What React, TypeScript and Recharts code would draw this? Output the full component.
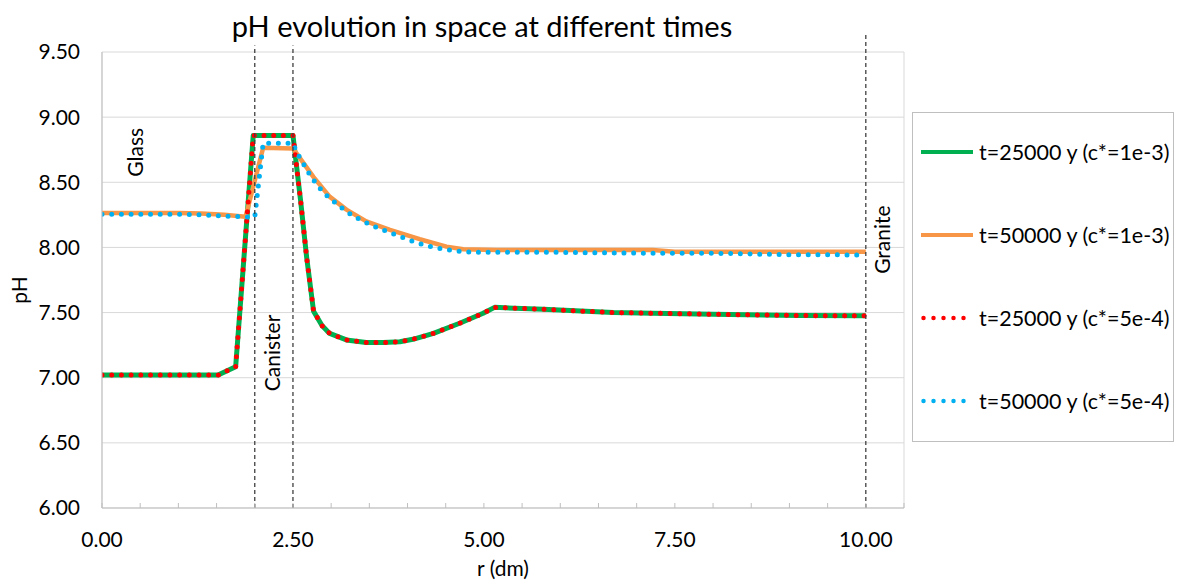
import React from 'react';
import {
  LineChart,
  Line,
  XAxis,
  YAxis,
  CartesianGrid,
  ReferenceLine,
  ReferenceDot,
  Legend,
  Customized,
} from 'recharts';

const FONT = 'Lato, "Open Sans", sans-serif';

// ---- data ----
// t=25000 y (c*=1e-3)  and  t=25000 y (c*=5e-4)
const rG = [0, 0.5, 1.0, 1.52, 1.75, 1.98, 2.5, 2.6, 2.68, 2.77, 2.88, 2.98, 3.2, 3.46, 3.68, 3.9, 4.07, 4.34, 4.69, 4.99, 5.14, 5.78, 6.69, 7.21, 8.0, 9.14, 10.0];
const pHGreen = [7.02, 7.02, 7.02, 7.02, 7.085, 8.86, 8.86, 8.36, 7.92, 7.51, 7.4, 7.34, 7.29, 7.27, 7.27, 7.276, 7.295, 7.34, 7.42, 7.495, 7.54, 7.525, 7.5, 7.495, 7.487, 7.477, 7.475];
const pHRed = [7.02, 7.02, 7.02, 7.02, 7.085, 8.86, 8.86, 8.36, 7.92, 7.51, 7.4, 7.34, 7.29, 7.27, 7.27, 7.276, 7.295, 7.34, 7.42, 7.495, 7.54, 7.525, 7.5, 7.495, 7.487, 7.477, 7.475];

// t=50000 y (c*=1e-3)
const rO = [0, 0.5, 1.0, 1.3, 1.6, 1.88, 2.11, 2.5, 2.53, 2.77, 2.98, 3.2, 3.46, 3.77, 4.16, 4.51, 4.73, 5.17, 6.0, 7.21, 7.5, 8.5, 10.0];
const pHOrange = [8.265, 8.265, 8.265, 8.26, 8.25, 8.236, 8.765, 8.76, 8.735, 8.54, 8.39, 8.29, 8.2, 8.134, 8.063, 8.006, 7.986, 7.98, 7.98, 7.98, 7.967, 7.967, 7.967];

// t=50000 y (c*=5e-4)
const rB = [0, 0.5, 1.0, 1.3, 1.6, 2.0, 2.11, 2.5, 2.55, 2.74, 2.9, 3.09, 3.29, 3.53, 3.77, 4.12, 4.36, 4.6, 4.86, 5.12, 6.0, 7.2, 8.0, 8.9, 10.0];
const pHBlue = [8.254, 8.254, 8.254, 8.25, 8.24, 8.232, 8.8, 8.8, 8.73, 8.538, 8.42, 8.326, 8.24, 8.17, 8.113, 8.036, 7.998, 7.975, 7.963, 7.963, 7.962, 7.955, 7.955, 7.945, 7.942];

const seriesNames = [
  't=25000 y (c*=1e-3)',
  't=50000 y (c*=1e-3)',
  't=25000 y (c*=5e-4)',
  't=50000 y (c*=5e-4)',
];

const yTicks = [6, 6.5, 7, 7.5, 8, 8.5, 9, 9.5];
const xMinorTicks = [0, 0.5, 1, 1.5, 2, 2.5, 3, 3.5, 4, 4.5, 5, 5.5, 6, 6.5, 7, 7.5, 8, 8.5, 9, 9.5, 10, 10.5];
const xLabelTicks = [0, 2.5, 5, 7.5, 10];
const xGridTicks = [0, 2.5, 5, 7.5, 10, 10.5];

// region boundaries (dashed markers)
const boundaries = [
  { r: 2.0, top: 9.55 },
  { r: 2.5, top: 9.55 },
  { r: 10.0, top: 9.65 },
];
const regionLabels = [
  { text: 'Glass', r: 0.42, pH: 8.73 },
  { text: 'Canister', r: 2.22, pH: 7.19 },
  { text: 'Granite', r: 10.2, pH: 8.06 },
];

const toRows = (xs: number[], ys: number[]) => xs.map((r, i) => ({ r, pH: ys[i] }));

const SERIES = [
  { key: 'g', name: seriesNames[0], color: '#00B050', dotted: false, data: toRows(rG, pHGreen), width: 5 },
  { key: 'o', name: seriesNames[1], color: '#F79646', dotted: false, data: toRows(rO, pHOrange), width: 4.5 },
  { key: 'r', name: seriesNames[2], color: '#FF0000', dotted: true, data: toRows(rG, pHRed), width: 5 },
  { key: 'b', name: seriesNames[3], color: '#00B0F0', dotted: true, data: toRows(rB, pHBlue), width: 5 },
];

const DOT_DASH = '0 9.7';
const X_TICK_MARGIN = 10;

const XTick = (props: any) => {
  const { x, y, payload } = props;
  const axisY = y - X_TICK_MARGIN;
  const v = payload.value as number;
  const isLabel = xLabelTicks.some((t) => Math.abs(t - v) < 1e-6);
  return (
    <g>
      <line x1={x} x2={x} y1={axisY} y2={axisY - 5} stroke="#BFBFBF" strokeWidth={1} />
      {isLabel && (
        <text x={x} y={axisY + 39} textAnchor="middle" fill="#000" fontSize={21} fontFamily={FONT}>
          {v.toFixed(2)}
        </text>
      )}
    </g>
  );
};

const RotLabel = (props: any) => {
  const { viewBox, value } = props;
  const cx = viewBox.x + (viewBox.width || 0) / 2;
  const cy = viewBox.y + (viewBox.height || 0) / 2;
  return (
    <text
      x={cx}
      y={cy}
      transform={`rotate(-90 ${cx} ${cy})`}
      textAnchor="middle"
      dominantBaseline="central"
      fill="#000"
      fontSize={21}
      fontFamily={FONT}
    >
      {value}
    </text>
  );
};

const YTitle = (props: any) => {
  const { viewBox } = props;
  const cx = viewBox.x + 18;
  const cy = viewBox.y + viewBox.height / 2 + 10;
  return (
    <text x={cx} y={cy} transform={`rotate(-90 ${cx} ${cy})`} textAnchor="middle" dominantBaseline="central" fill="#000" fontSize={21} fontFamily={FONT}>
      pH
    </text>
  );
};

const Title = () => (
  <text x={482} y={37} textAnchor="middle" fill="#000" fontSize={29} fontFamily={FONT}>
    pH evolution in space at different times
  </text>
);

const LegendBox = () => (
  <div
    style={{
      position: 'relative',
      width: 262,
      height: 330,
      border: '1px solid #BFBFBF',
      boxSizing: 'border-box',
      background: '#fff',
    }}
  >
    {SERIES.map((s, i) => (
      <div
        key={s.key}
        style={{
          position: 'absolute',
          left: 8,
          top: 39 + i * 83 - 15,
          height: 30,
          display: 'flex',
          alignItems: 'center',
          whiteSpace: 'nowrap',
        }}
      >
        <svg width={53} height={10} style={{ display: 'block' }}>
          <line
            x1={s.dotted ? 2.5 : 0}
            x2={52}
            y1={5}
            y2={5}
            stroke={s.color}
            strokeWidth={s.dotted ? 4.5 : 4}
            strokeDasharray={s.dotted ? '0 10' : undefined}
            strokeLinecap={s.dotted ? 'round' : 'butt'}
          />
        </svg>
        <span style={{ marginLeft: 5, fontFamily: FONT, fontSize: 21.5, color: '#000' }}>{s.name}</span>
      </div>
    ))}
  </div>
);

export default function App() {
  return (
    <div style={{ position: 'absolute', left: 0, top: 0, width: 1180, height: 583, background: '#fff' }}>
      <LineChart width={1180} height={583} margin={{ top: 52, right: 276, bottom: 0, left: 0 }} style={{ fontFamily: FONT }}>
        <CartesianGrid stroke="#D9D9D9" strokeWidth={1} xAxisId="grid" />
        <XAxis
          dataKey="r"
          type="number"
          domain={[0, 10.5]}
          ticks={xMinorTicks}
          interval={0}
          tickSize={0}
          tickMargin={X_TICK_MARGIN}
          tick={<XTick />}
          axisLine={{ stroke: '#BFBFBF' }}
          tickLine={false}
          height={75}
          allowDataOverflow
          label={{ value: 'r (dm)', position: 'insideBottom', offset: 7, fill: '#000', fontSize: 21, fontFamily: FONT }}
        />
        <XAxis xAxisId="grid" type="number" dataKey="r" domain={[0, 10.5]} ticks={xGridTicks} hide />
        <YAxis
          type="number"
          domain={[6, 9.5]}
          ticks={yTicks}
          interval={0}
          tickFormatter={(v: number) => v.toFixed(2)}
          tick={{ fill: '#000', fontSize: 21, fontFamily: FONT }}
          tickSize={0}
          tickMargin={22}
          tickLine={false}
          axisLine={{ stroke: '#BFBFBF' }}
          width={102}
          allowDataOverflow
          label={{ content: YTitle }}
        />
        {SERIES.map((s) => (
          <Line
            key={s.key}
            data={s.data}
            dataKey="pH"
            name={s.name}
            type="linear"
            stroke={s.color}
            strokeWidth={s.width}
            strokeDasharray={s.dotted ? DOT_DASH : undefined}
            strokeLinecap={s.dotted ? 'round' : 'butt'}
            strokeLinejoin="round"
            dot={false}
            activeDot={false}
            isAnimationActive={false}
          />
        ))}
        {boundaries.map((b) => (
          <ReferenceLine
            key={b.r}
            segment={[
              { x: b.r, y: 6 },
              { x: b.r, y: b.top },
            ]}
            stroke="#404040"
            strokeWidth={1.3}
            strokeDasharray="4 3"
            ifOverflow="visible"
          />
        ))}
        {regionLabels.map((l) => (
          <ReferenceDot
            key={l.text}
            x={l.r}
            y={l.pH}
            r={0.5}
            fillOpacity={0}
            strokeOpacity={0}
            ifOverflow="visible"
            label={{ value: l.text, content: RotLabel }}
          />
        ))}
        <Customized component={Title} />
        <Legend
          layout="vertical"
          align="center"
          verticalAlign="middle"
          wrapperStyle={{ left: 912, top: 112, width: 262, height: 330 }}
          content={<LegendBox />}
        />
      </LineChart>
    </div>
  );
}
